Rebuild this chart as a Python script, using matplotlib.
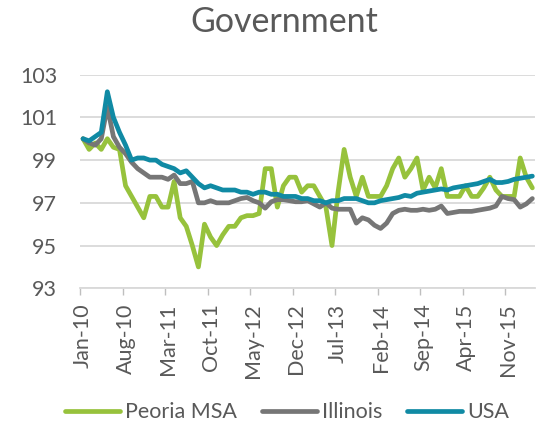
import matplotlib
matplotlib.use("Agg")
import matplotlib.pyplot as plt
import numpy as np

# Monthly index values, Jan-10 .. Mar-16
peoria = [100.0, 99.5, 99.8, 99.5, 100.0, 99.6, 99.5, 97.8, 97.3, 96.8,
          96.3, 97.3, 97.3, 96.8, 96.8, 98.0, 96.3, 95.9, 95.0, 94.0,
          96.0, 95.4, 95.0, 95.5, 95.9, 95.9, 96.3, 96.4, 96.4, 96.5,
          98.6, 98.6, 96.8, 97.8, 98.2, 98.2, 97.5, 97.8, 97.8, 97.3,
          96.8, 95.0, 97.5, 99.5, 98.2, 97.3, 98.2, 97.3, 97.3, 97.3,
          97.8, 98.6, 99.1, 98.2, 98.6, 99.1, 97.6, 98.2, 97.7, 98.6,
          97.3, 97.3, 97.3, 97.8, 97.3, 97.3, 97.7, 98.2, 97.6, 97.3,
          97.3, 97.3, 99.1, 98.2, 97.7]
illinois = [100.0, 99.8, 99.7, 100.0, 101.5, 100.1, 99.6, 99.3, 98.9, 98.6,
            98.4, 98.2, 98.2, 98.2, 98.1, 98.3, 97.9, 97.9, 98.0, 97.0,
            97.0, 97.1, 97.0, 97.0, 97.0, 97.1, 97.2, 97.25, 97.1, 97.0,
            96.75, 97.05, 97.15, 97.15, 97.1, 97.05, 97.05, 97.1, 96.95, 96.8,
            97.0, 96.75, 96.7, 96.7, 96.7, 96.05, 96.3, 96.2, 95.95, 95.8,
            96.05, 96.5, 96.65, 96.7, 96.65, 96.65, 96.7, 96.65, 96.7, 96.85,
            96.5, 96.55, 96.6, 96.6, 96.6, 96.65, 96.7, 96.75, 96.85, 97.3,
            97.2, 97.15, 96.8, 96.95, 97.2]
usa = [100.0, 99.9, 100.1, 100.3, 102.2, 101.0, 100.3, 99.7, 99.0, 99.1,
       99.1, 99.0, 99.0, 98.8, 98.7, 98.6, 98.4, 98.5, 98.2, 97.9,
       97.7, 97.8, 97.7, 97.6, 97.6, 97.6, 97.5, 97.5, 97.4, 97.5,
       97.5, 97.4, 97.4, 97.3, 97.3, 97.3, 97.2, 97.2, 97.1, 97.1,
       97.0, 97.1, 97.1, 97.2, 97.2, 97.2, 97.1, 97.0, 97.0, 97.1,
       97.15, 97.2, 97.25, 97.35, 97.3, 97.45, 97.5, 97.55, 97.6, 97.65,
       97.6, 97.7, 97.75, 97.8, 97.85, 97.9, 98.0, 98.1, 97.95, 97.95,
       98.0, 98.1, 98.15, 98.2, 98.25]
tick_labels = ["Jan-10", "Aug-10", "Mar-11", "Oct-11", "May-12", "Dec-12",
               "Jul-13", "Feb-14", "Sep-14", "Apr-15", "Nov-15"]
y_ticks = [93, 95, 97, 99, 101, 103]
series_names = ["Peoria MSA", "Illinois", "USA"]
colors = ["#97C23C", "#767676", "#108AA4"]

plt.rcParams["font.family"] = ["Lato", "DejaVu Sans"]
txt = "#595959"

fig = plt.figure(figsize=(5.37, 4.29), dpi=100)
ax = fig.add_axes([0.149, 0.328, 0.848, 0.498])

x = np.arange(len(usa))
for data, name, c in zip([peoria, illinois, usa], series_names, colors):
    ax.plot(x, data, color=c, lw=3.4, label=name, solid_joinstyle="round",
            solid_capstyle="round")

ax.set_ylim(93, 103)
ax.set_xlim(-0.5, len(usa) - 0.5)
ax.set_yticks(y_ticks)
ax.set_yticklabels([str(v) for v in y_ticks], fontsize=15.5, color=txt)
ax.tick_params(axis="y", length=0, pad=16.5)

label_pos = np.arange(0, 7 * len(tick_labels), 7)
ax.set_xticks(label_pos)
ax.set_xticklabels(tick_labels, rotation=90, fontsize=15.5, color=txt)
ax.tick_params(axis="x", which="major", length=0, pad=11)
ax.set_xticks(label_pos - 0.5, minor=True)
ax.tick_params(axis="x", which="minor", length=5, color="#BFBFBF", width=1)

ax.grid(axis="y", color="#D9D9D9", lw=1.3)
ax.set_axisbelow(True)
for s in ["top", "right", "left"]:
    ax.spines[s].set_visible(False)
ax.spines["bottom"].set_color("#D9D9D9")
ax.spines["bottom"].set_linewidth(1.3)

fig.suptitle("Government", fontsize=24.5, color=txt, x=0.529, y=0.985)
fig.legend(loc="lower center", ncol=3, frameon=False, fontsize=15.5,
           handlelength=2.55, handletextpad=0.25, columnspacing=1.15,
           bbox_to_anchor=(0.535, -0.03), labelcolor=txt)

fig.savefig("out.png", dpi=100)
